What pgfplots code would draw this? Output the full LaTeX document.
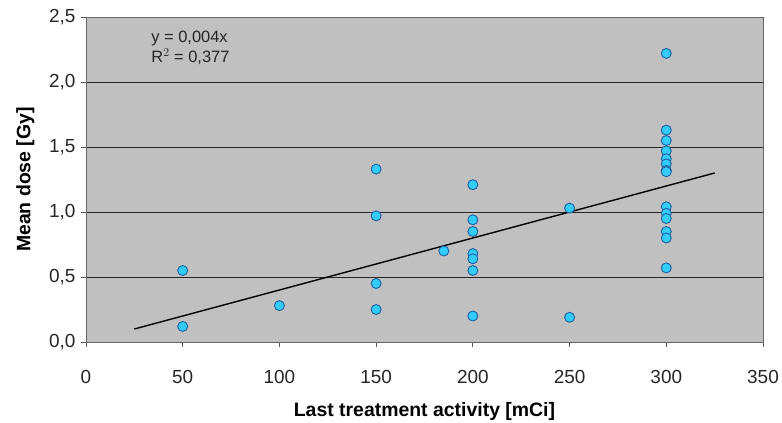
\documentclass[border=0pt]{standalone}
\usepackage{pgfplots}
\pgfplotsset{compat=1.18}
\usepackage{fontspec}
\setmainfont{Liberation Sans}
\definecolor{plotbg}{HTML}{C0C0C0}
\definecolor{ptfill}{HTML}{33CCFF}
\definecolor{ptedge}{HTML}{1F5F9F}

\begin{document}
\begin{tikzpicture}
    \path[use as bounding box] (-86bp,-81bp) rectangle (696bp,342bp);
    \begin{axis}[
        scale only axis,
        width=677bp, height=325bp,
        xmin=0, xmax=350,
        ymin=0, ymax=2.5,
        xtick={0,50,...,350},
        ytick={0,0.5,...,2.5},
        axis background/.style={fill=plotbg},
        axis line style={draw=gray!80!black},
        tick style={draw=gray!70!black, line width=0.8pt},
        tick align=outside,
        major tick length=5bp,
        xtick pos=bottom, ytick pos=left,
        ymajorgrids=true,
        grid style={draw=black!85, line width=0.9pt},
        /pgf/number format/assume math mode=true,
        yticklabel style={xshift=-2bp,
            /pgf/number format/use comma,
            /pgf/number format/fixed,
            /pgf/number format/fixed zerofill,
            /pgf/number format/precision=1},
        ticklabel style={font=\fontsize{19}{21}\selectfont, text=black!85},
        xticklabel style={yshift=-20bp},
        xlabel={\textbf{Last treatment activity [mCi]}},
        ylabel={\textbf{Mean dose [Gy]}},
        label style={font=\fontsize{19.5}{22}\selectfont},
        xlabel style={yshift=-12bp},
        ylabel style={yshift=8bp},
        clip=false,
    ]

    % measured points
    \addplot[only marks, mark=*, mark size=5bp,
        mark options={fill=ptfill, draw=ptedge, line width=0.9pt}]
    coordinates {
        (50,0.55)(50,0.12)(100,0.28)
        (150,1.33)(150,0.97)(150,0.45)(150,0.25)
        (185,0.70)
        (200,1.21)(200,0.94)(200,0.85)(200,0.68)(200,0.64)(200,0.55)(200,0.20)
        (250,1.03)(250,0.19)
        (300,2.22)(300,1.63)(300,1.55)(300,1.47)(300,1.41)(300,1.37)(300,1.32)(300,1.31)
        (300,1.04)(300,0.99)(300,0.95)(300,0.85)(300,0.80)(300,0.57)
    };

    % linear trend line
    \addplot[black, line width=1.4pt] coordinates {(25,0.10)(325,1.30)};

    \node[font=\fontsize{16.5}{20}\selectfont, align=left, text=black!85]
        at (axis cs:54,2.26) {y = 0,004x\\R$^2$ = 0,377};

    \end{axis}
\end{tikzpicture}
\end{document}
